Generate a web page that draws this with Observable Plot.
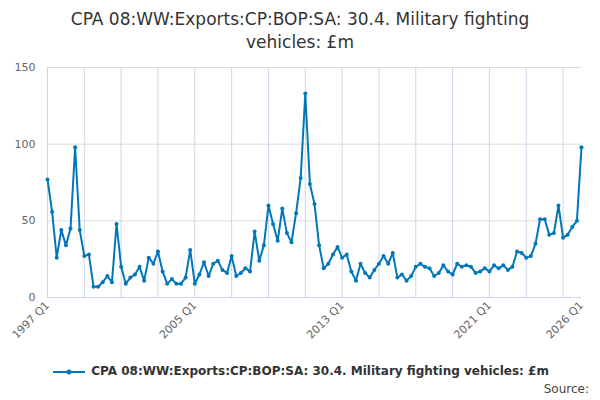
<!DOCTYPE html>
<html><head><meta charset="utf-8">
<script src="https://cdn.jsdelivr.net/npm/d3@7"></script>
<script src="https://cdn.jsdelivr.net/npm/@observablehq/plot@0.6"></script>
<style>
body{margin:0;width:600px;height:400px;font-family:"DejaVu Sans",sans-serif;background:#fff;position:relative}
#title{text-align:center;font-size:17px;color:#333;line-height:23px;padding-top:8px;height:47px}
#legend{position:absolute;top:364px;left:0;width:600px;text-align:center;font-size:12px;font-weight:bold;color:#333}
#source{position:absolute;top:382px;right:11px;font-size:12px;color:#444}
</style></head><body>
<div id="title">CPA 08:WW:Exports:CP:BOP:SA: 30.4. Military fighting<br>vehicles: £m</div>
<div id="chart"></div>
<div id="legend"><svg width="36" height="10" style="vertical-align:middle"><line x1="2" y1="5" x2="34" y2="5" stroke="#0077bb" stroke-width="2"/><circle cx="18" cy="5" r="2.5" fill="#0077bb"/></svg> CPA 08:WW:Exports:CP:BOP:SA: 30.4. Military fighting vehicles: £m</div>
<div id="source">Source:</div>
<script>
const startYear = 1997;
const values = [77,56,26,44,34,45,98,44,27,28,7,7,10,14,10,48,20,9,13,15,20,11,26,22,30,17,9,12,9,9,13,31,9,15,23,14,22,24,18,16,27,14,
16,19,17,43,24,34,60,48,37,58,42,36,55,78,133,74,61,34,19,22,28,33,26,28,17,11,22,16,13,18,22,27,22,29,13,15,11,14,
20,22,20,19,14,16,21,17,15,22,20,21,20,16,17,19,17,21,19,21,18,20,30,29,26,27,35,51,51,41,42,60,39,41,46,50,98];
const labelYears = [1997,2005,2013,2021,2026];
const data = values.map((v,i)=>({i, v}));
const tickIdx = d3.range(0, values.length, 8);
const labelIdx = labelYears.map(y=>(y-startYear)*4);
const chart = Plot.plot({
  width:600, height:300, marginTop:12, marginBottom:58, marginLeft:47, marginRight:19,
  style:{fontFamily:"DejaVu Sans, sans-serif", fontSize:"11px", color:"#666"},
  x:{domain:[0, values.length-1], axis:null},
  y:{domain:[0,150], axis:null},
  marks:[
    Plot.gridY([0,50,100,150], {stroke:"#ddd", strokeOpacity:1}),
    Plot.axisY([0,50,100,150], {tickSize:0, tickPadding:12, label:null, fill:"#666"}),
    Plot.ruleY([0], {stroke:"#ccd6eb"}),
    Plot.tickX(tickIdx, {x:d=>d, y1:0, y2:-6, stroke:"#ccd6eb"}),
    Plot.axisX(labelIdx, {tickSize:0, tickRotate:-45, tickPadding:6, label:null, fill:"#666", tickFormat:i=>`${startYear+i/4} Q1`}),
    Plot.line(data, {x:"i", y:"v", stroke:"#0077bb", strokeWidth:2}),
    Plot.dot(data, {x:"i", y:"v", fill:"#0077bb", r:2})
  ]
});
document.getElementById("chart").append(chart);
</script></body></html>
